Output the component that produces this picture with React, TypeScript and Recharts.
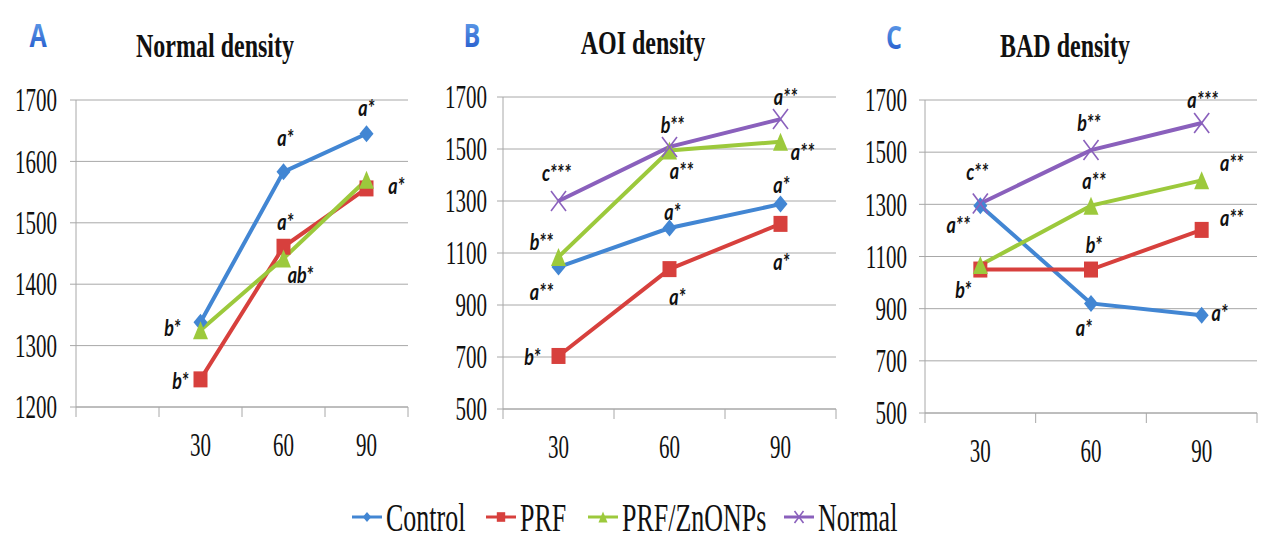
import React from "react";
import { LineChart, Line, XAxis, YAxis, CartesianGrid } from "recharts";

// x categories (panel A has an empty first slot)
const CATS_A = ["", "30", "60", "90"];
const CATS_BC = ["30", "60", "90"];

const TICKS_A = [1200, 1300, 1400, 1500, 1600, 1700];
const TICKS_BC = [500, 700, 900, 1100, 1300, 1500, 1700];

// Normal density
const normControl = [1338, 1583, 1645];
const normPrf = [1245, 1461, 1556];
const normZn = [1325, 1442, 1570];

// AOI density
const aoiControl = [1046, 1196, 1288];
const aoiPrf = [704, 1038, 1212];
const aoiZn = [1085, 1494, 1528];
const aoiNormal = [1300, 1508, 1615];

// BAD density
const badControl = [1295, 920, 875];
const badPrf = [1050, 1050, 1202];
const badZn = [1067, 1295, 1392];
const badNormal = [1303, 1508, 1612];

// significance letters
const normControlSig = [null, "a*", "a*"];
const normPrfSig = ["b*", "a*", "a*"];
const normZnSig = ["b*", "ab*", null];

const aoiControlSig = ["a**", "a*", "a*"];
const aoiPrfSig = ["b*", "a*", "a*"];
const aoiZnSig = ["b**", "a**", "a**"];
const aoiNormalSig = ["c***", "b**", "a**"];

const badControlSig = ["a**", "a*", "a*"];
const badPrfSig = ["b*", "b*", "a**"];
const badZnSig = [null, "a**", "a**"];
const badNormalSig = ["c**", "b**", "a***"];

// label offsets from the point (px)
const normControlOff = [[0, 0], [2, -34], [0, -26]];
const normPrfOff = [[-20, 2], [2, -25], [30, -2]];
const normZnOff = [[-28, -2], [17, 17], [0, 0]];

const aoiControlOff = [[-17, 25], [3, -16], [1, -19]];
const aoiPrfOff = [[-26, 1], [8, 28], [1, 38]];
const aoiZnOff = [[-17, -15], [12, 21], [22, 10]];
const aoiNormalOff = [[-2, -28], [3, -22], [5, -22]];

const badControlOff = [[-22, 20], [-7, 25], [18, -2]];
const badPrfOff = [[-17, 21], [3, -24], [30, -12]];
const badZnOff = [[0, 0], [3, -24], [30, -17]];
const badNormalOff = [[-3, -31], [-2, -27], [1, -23]];

const BLUE = "#4286d3";
const RED = "#d7403d";
const GREEN = "#9cc93c";
const PURPLE = "#8a60bc";
const GRID = "#a8a8a8";
const SERIF = "'Liberation Serif', 'Times New Roman', serif";
const ANNO = "Lato, 'Liberation Sans', sans-serif";

type Shape = "diamond" | "square" | "triangle" | "x";

function marker(shape: Shape, color: string, cx: number, cy: number, k = 1) {
  if (shape === "diamond") {
    const w = 7 * k, h = 8.5 * k;
    return <polygon points={`${cx},${cy - h} ${cx + w},${cy} ${cx},${cy + h} ${cx - w},${cy}`} fill={color} />;
  }
  if (shape === "square") {
    const w = 7 * k, h = 8 * k;
    return <rect x={cx - w} y={cy - h} width={w * 2} height={h * 2} fill={color} />;
  }
  if (shape === "triangle") {
    const w = 7.5 * k, h = 9 * k;
    return <polygon points={`${cx},${cy - h} ${cx + w},${cy + h} ${cx - w},${cy + h}`} fill={color} />;
  }
  const w = 7.5 * k, h = 10 * k;
  return (
    <g stroke={color} strokeWidth={1.6}>
      <line x1={cx - w} y1={cy - h} x2={cx + w} y2={cy + h} />
      <line x1={cx - w} y1={cy + h} x2={cx + w} y2={cy - h} />
    </g>
  );
}

function makeDot(shape: Shape, color: string, sig: (string | null)[], off: number[][]) {
  return (p: any) => {
    const { cx, cy, index } = p;
    if (cx == null || cy == null) return <g key={`e${index}`} />;
    const s = sig[index];
    const o = off[index] || [0, 0];
    return (
      <g key={`d${index}`}>
        {marker(shape, color, cx, cy)}
        {s ? (
          <g transform={`translate(${cx + o[0]},${cy + o[1]}) scale(1,1.3)`}>
            <text textAnchor="middle" y={6} fontFamily={ANNO} fontStyle="italic" fontWeight={700} fontSize={18} fill="#111">
              {s}
            </text>
          </g>
        ) : null}
      </g>
    );
  };
}

type Series = { key: string; color: string; shape: Shape; values: number[]; sig: (string | null)[]; off: number[][] };

function Panel(props: {
  left: number;
  width: number;
  plotTop: number;
  plotBottom: number;
  yAxisWidth: number;
  marginRight: number;
  tickMargin: number;
  cats: string[];
  yTicks: number[];
  series: Series[];
}) {
  const { left, width, plotTop, plotBottom, yAxisWidth, marginRight, tickMargin, cats, yTicks, series } = props;
  const height = 470;
  const xAxisHeight = 50;
  const n = cats.length;
  const first = n - series[0].values.length;
  const rows = series[0].values.map((_, i) => {
    const r: any = { x: first + i + 0.5 };
    series.forEach((s) => (r[s.key] = s.values[i]));
    return r;
  });
  const band = (width - yAxisWidth - marginRight) / n;
  const xTicks = cats.map((_, i) => i).concat([n]);

  const XTick = (p: any) => {
    const v = p.payload.value as number;
    return (
      <g>
        <line x1={p.x} x2={p.x} y1={p.y} y2={p.y + 10} stroke={GRID} />
        {v < n && cats[v] ? (
          <g transform={`translate(${p.x + band / 2},${p.y + 38}) scale(1,1.6)`}>
            <text textAnchor="middle" y={7} fontFamily={SERIF} fontSize={21} fill="#111">
              {cats[v]}
            </text>
          </g>
        ) : null}
      </g>
    );
  };
  const YTick = (p: any) => (
    <g transform={`translate(${p.x},${p.y}) scale(1,1.6)`}>
      <text textAnchor="end" y={7} fontFamily={SERIF} fontSize={21} fill="#111">
        {p.payload.value}
      </text>
    </g>
  );

  return (
    <div style={{ position: "absolute", left, top: 0 }}>
      <LineChart
        width={width}
        height={height}
        data={rows}
        margin={{ top: plotTop, right: marginRight, left: 0, bottom: height - plotBottom - xAxisHeight }}
      >
        <CartesianGrid vertical={false} stroke={GRID} />
        <XAxis
          dataKey="x"
          type="number"
          domain={[0, n]}
          ticks={xTicks}
          interval={0}
          tick={XTick}
          tickLine={false}
          tickSize={0}
          tickMargin={0}
          height={xAxisHeight}
          axisLine={{ stroke: GRID }}
        />
        <YAxis
          type="number"
          domain={[yTicks[0], yTicks[yTicks.length - 1]]}
          ticks={yTicks}
          interval={0}
          width={yAxisWidth}
          tick={YTick}
          tickSize={6}
          tickMargin={tickMargin}
          tickLine={{ stroke: GRID }}
          axisLine={{ stroke: GRID }}
        />
        {series.map((s) => (
          <Line
            key={s.key}
            type="linear"
            dataKey={s.key}
            stroke={s.color}
            strokeWidth={4}
            dot={makeDot(s.shape, s.color, s.sig, s.off)}
            activeDot={false}
            isAnimationActive={false}
          />
        ))}
      </LineChart>
    </div>
  );
}

function Letter({ x, y, ch }: { x: number; y: number; ch: string }) {
  return (
    <g transform={`translate(${x},${y}) scale(1,1.25)`}>
      <text textAnchor="middle" fontFamily="'Open Sans', sans-serif" fontWeight={700} fontSize={25} fill="url(#lg)">
        {ch}
      </text>
    </g>
  );
}

function Title({ x, y, text }: { x: number; y: number; text: string }) {
  return (
    <g transform={`translate(${x},${y}) scale(1,1.42)`}>
      <text textAnchor="middle" fontFamily={SERIF} fontWeight={700} fontSize={24} fill="#111">
        {text}
      </text>
    </g>
  );
}

const legendItems: { label: string; color: string; shape: Shape; x: number }[] = [
  { label: "Control", color: BLUE, shape: "diamond", x: 352 },
  { label: "PRF", color: RED, shape: "square", x: 486 },
  { label: "PRF/ZnONPs", color: GREEN, shape: "triangle", x: 588 },
  { label: "Normal", color: PURPLE, shape: "x", x: 784 },
];

export default function App() {
  return (
    <div style={{ position: "absolute", left: 0, top: 0, width: 1263, height: 538, background: "#fff", overflow: "hidden" }}>
      <Panel
        left={0}
        width={420}
        plotTop={100}
        plotBottom={407}
        yAxisWidth={76}
        marginRight={12}
        tickMargin={13}
        cats={CATS_A}
        yTicks={TICKS_A}
        series={[
          { key: "control", color: BLUE, shape: "diamond", values: normControl, sig: normControlSig, off: normControlOff },
          { key: "prf", color: RED, shape: "square", values: normPrf, sig: normPrfSig, off: normPrfOff },
          { key: "zn", color: GREEN, shape: "triangle", values: normZn, sig: normZnSig, off: normZnOff },
        ]}
      />
      <Panel
        left={420}
        width={420}
        plotTop={97}
        plotBottom={409}
        yAxisWidth={83}
        marginRight={4}
        tickMargin={10}
        cats={CATS_BC}
        yTicks={TICKS_BC}
        series={[
          { key: "control", color: BLUE, shape: "diamond", values: aoiControl, sig: aoiControlSig, off: aoiControlOff },
          { key: "prf", color: RED, shape: "square", values: aoiPrf, sig: aoiPrfSig, off: aoiPrfOff },
          { key: "zn", color: GREEN, shape: "triangle", values: aoiZn, sig: aoiZnSig, off: aoiZnOff },
          { key: "normal", color: PURPLE, shape: "x", values: aoiNormal, sig: aoiNormalSig, off: aoiNormalOff },
        ]}
      />
      <Panel
        left={840}
        width={423}
        plotTop={100}
        plotBottom={413}
        yAxisWidth={85}
        marginRight={6}
        tickMargin={12}
        cats={CATS_BC}
        yTicks={TICKS_BC}
        series={[
          { key: "control", color: BLUE, shape: "diamond", values: badControl, sig: badControlSig, off: badControlOff },
          { key: "prf", color: RED, shape: "square", values: badPrf, sig: badPrfSig, off: badPrfOff },
          { key: "zn", color: GREEN, shape: "triangle", values: badZn, sig: badZnSig, off: badZnOff },
          { key: "normal", color: PURPLE, shape: "x", values: badNormal, sig: badNormalSig, off: badNormalOff },
        ]}
      />
      <svg width={1263} height={538} style={{ position: "absolute", left: 0, top: 0, pointerEvents: "none" }}>
        <defs>
          <linearGradient id="lg" x1="0" y1="0" x2="0" y2="1">
            <stop offset="0" stopColor="#6aa8ee" />
            <stop offset="1" stopColor="#1d52c8" />
          </linearGradient>
        </defs>
        <Letter x={38} y={47} ch="A" />
        <Letter x={472} y={47} ch="B" />
        <Letter x={894} y={49} ch="C" />
        <Title x={215} y={57} text="Normal density" />
        <Title x={643} y={54} text="AOI density" />
        <Title x={1065} y={57} text="BAD density" />
        {legendItems.map((it) => (
          <g key={it.label}>
            <line x1={it.x} x2={it.x + 30} y1={517} y2={517} stroke={it.color} strokeWidth={3} />
            {marker(it.shape, it.color, it.x + 15, 517, 0.6)}
            <g transform={`translate(${it.x + 34},531) scale(1,1.5)`}>
              <text fontFamily={SERIF} fontSize={26} fill="#111">
                {it.label}
              </text>
            </g>
          </g>
        ))}
      </svg>
    </div>
  );
}
